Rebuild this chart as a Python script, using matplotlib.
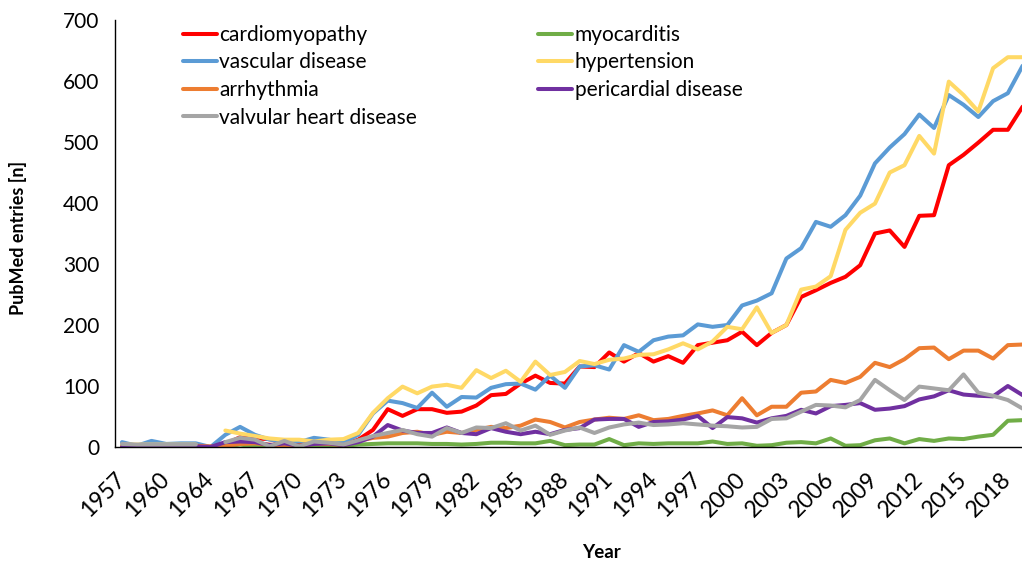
import matplotlib
matplotlib.use("Agg")
import matplotlib.pyplot as plt
import numpy as np

nan = np.nan

# years on the category axis (1962 is missing in the source data)
years = [1957, 1958, 1959, 1960, 1961, 1963, 1964, 1965, 1966, 1967,
         1968, 1969, 1970, 1971, 1972, 1973, 1974, 1975, 1976, 1977,
         1978, 1979, 1980, 1981, 1982, 1983, 1984, 1985, 1986, 1987,
         1988, 1989, 1990, 1991, 1992, 1993, 1994, 1995, 1996, 1997,
         1998, 1999, 2000, 2001, 2002, 2003, 2004, 2005, 2006, 2007,
         2008, 2009, 2010, 2011, 2012, 2013, 2014, 2015, 2016, 2017,
         2018, 2019]

cardiomyopathy = [1, 1, 1, 1, 1, 1, 0, 5, 16, 14,
                  13, 6, 4, 5, 6, 4, 12, 28, 62, 51,
                  62, 62, 56, 58, 68, 85, 87, 104, 117, 105,
                  104, 132, 131, 155, 140, 154, 140, 149, 138, 167,
                  171, 175, 189, 167, 187, 200, 246, 257, 269, 279,
                  298, 350, 355, 328, 379, 380, 462, 479, 499, 520,
                  520, 558]

myocarditis = [nan, nan, nan, nan, nan, nan, nan, 1, 4, 1,
               0, 0, 0, 0, 0, 2, 4, 5, 6, 6,
               6, 5, 5, 4, 5, 7, 7, 6, 6, 10,
               3, 4, 4, 13, 3, 6, 5, 6, 6, 6,
               9, 5, 6, 2, 3, 7, 8, 6, 14, 2,
               3, 11, 14, 6, 13, 10, 14, 13, 17, 20,
               43, 44]

vascular = [8, 2, 10, 5, 6, 6, 0, 20, 33, 20,
            12, 10, 8, 15, 12, 8, 20, 55, 76, 72,
            64, 89, 66, 82, 81, 97, 103, 104, 94, 117,
            97, 132, 134, 127, 167, 156, 175, 181, 183, 201,
            197, 200, 232, 240, 252, 309, 326, 369, 361, 380,
            412, 465, 491, 513, 545, 523, 577, 561, 541, 567,
            580, 625]

hypertension = [4, 4, 4, 4, 4, 4, nan, 27, 22, 18,
                14, 12, 12, 9, 12, 13, 23, 56, 80, 99,
                88, 99, 102, 97, 126, 113, 125, 107, 140, 118,
                123, 141, 136, 143, 145, 151, 152, 160, 170, 160,
                173, 197, 193, 229, 187, 200, 258, 263, 280, 356,
                384, 399, 450, 462, 510, 481, 599, 577, 550, 621,
                639, 639]

arrhythmia = [0, 0, 0, 0, 0, 2, 1, 2, 5, 6,
              4, 2, 3, 5, 5, 3, 10, 15, 17, 23,
              25, 20, 25, 23, 28, 33, 31, 35, 45, 41,
              32, 41, 45, 48, 46, 52, 44, 46, 51, 55,
              60, 52, 80, 52, 66, 66, 89, 91, 110, 105,
              115, 138, 131, 144, 162, 163, 144, 158, 158, 145,
              167, 168]

pericardial = [0, 1, 1, 1, 1, 1, 0, 8, 9, 8,
               3, 6, 2, 5, 6, 3, 8, 17, 36, 27,
               23, 23, 32, 23, 21, 31, 25, 21, 25, 21,
               28, 31, 45, 46, 46, 33, 41, 42, 45, 51,
               31, 49, 47, 40, 47, 51, 61, 55, 67, 69,
               72, 61, 63, 67, 78, 83, 93, 86, 84, 83,
               100, 85]

valvular = [5, 4, 4, 4, 4, 4, nan, 8, 15, 12,
            1, 10, 1, 9, 7, 4, 11, 18, 23, 28,
            21, 17, 31, 23, 32, 31, 39, 27, 35, 20,
            27, 32, 23, 32, 37, 40, 36, 37, 39, 37,
            35, 34, 32, 33, 46, 47, 58, 69, 68, 65,
            77, 110, 93, 77, 99, 96, 93, 119, 89, 84,
            77, 63]

# drawing order as in the source spreadsheet
series = [
    ("cardiomyopathy", cardiomyopathy, "#FF0000"),
    ("myocarditis", myocarditis, "#70AD47"),
    ("vascular disease", vascular, "#5B9BD5"),
    ("hypertension", hypertension, "#FFD966"),
    ("arrhythmia", arrhythmia, "#ED7D31"),
    ("pericardial disease", pericardial, "#7030A0"),
    ("valvular heart disease", valvular, "#A5A5A5"),
]
legend_order = [0, 2, 4, 6, 1, 3, 5]

plt.rcParams["font.family"] = ["Lato", "DejaVu Sans"]

W, H = 1022, 561
fig = plt.figure(figsize=(W / 100, H / 100), dpi=100)
ax = fig.add_axes([114.6 / W, (H - 447) / H, (1030 - 114.6) / W, 427 / H])

x = np.arange(len(years))
lines = []
for name, vals, color in series:
    (ln,) = ax.plot(x, vals, color=color, lw=2.9, label=name,
                    solid_capstyle="round", solid_joinstyle="round")
    lines.append(ln)

ax.set_xlim(-0.5, len(years) - 0.5)
ax.set_ylim(0, 700)
ax.set_yticks(range(0, 701, 100))
ax.set_xticks(x[::3])
ax.set_xticklabels([str(y) for y in years[::3]], rotation=45,
                   ha="right", va="center", rotation_mode="anchor")
ax.tick_params(axis="both", length=0, labelsize=15)
ax.tick_params(axis="x", labelsize=16.5)
ax.tick_params(axis="y", pad=11)
ax.tick_params(axis="x", pad=21)

for side in ("top", "right"):
    ax.spines[side].set_visible(False)
for side in ("left", "bottom"):
    ax.spines[side].set_color("black")
    ax.spines[side].set_linewidth(1.0)

fig.text(601 / W, 1 - 552 / H, "Year", ha="center", va="center",
         fontsize=13.5, fontweight="bold")
fig.text(18 / W, 1 - 238 / H, "PubMed entries [n]", ha="center", va="center",
         rotation=90, fontsize=13, fontweight="bold")

ax.legend([lines[i] for i in legend_order],
          [series[i][0] for i in legend_order],
          ncol=2, frameon=False, fontsize=15,
          loc="upper left", bbox_to_anchor=(183 / W, 1 - 25 / H),
          bbox_transform=fig.transFigure, borderpad=0, borderaxespad=0,
          handlelength=1.65, handletextpad=0.1, labelspacing=0.36,
          columnspacing=5.8)

fig.savefig("out.png", dpi=100)
